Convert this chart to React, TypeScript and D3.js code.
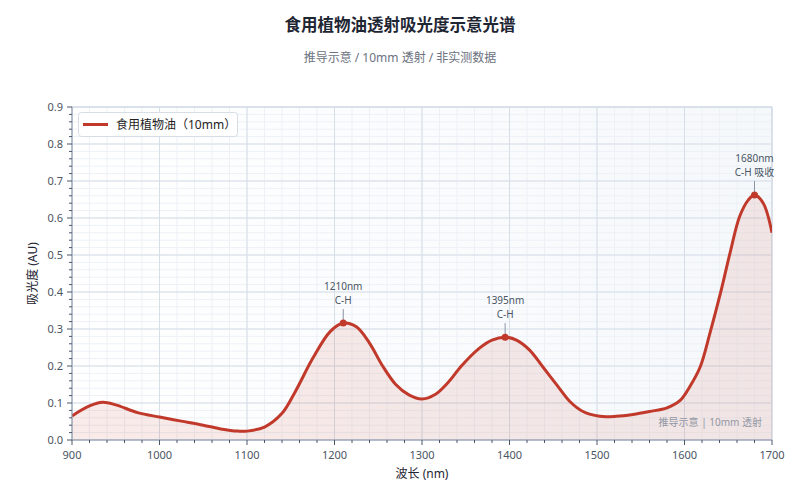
import React from "react";
import * as d3 from "d3";

const wavelengths = [900, 920, 935, 950, 975, 1000, 1025, 1050, 1070, 1090, 1100, 1120, 1140, 1155, 1175, 1195, 1210, 1225, 1240, 1255, 1270, 1285, 1300, 1315, 1330, 1345, 1365, 1380, 1395, 1408, 1423, 1438, 1454, 1469, 1484, 1503, 1522, 1541, 1560, 1580, 1595, 1606, 1618, 1629, 1641, 1652, 1663, 1673, 1680, 1690, 1700];
const absorbance = [0.065, 0.092, 0.102, 0.095, 0.074, 0.062, 0.051, 0.040, 0.030, 0.024, 0.024, 0.035, 0.072, 0.13, 0.22, 0.293, 0.316, 0.306, 0.262, 0.2, 0.15, 0.122, 0.111, 0.123, 0.156, 0.2, 0.247, 0.27, 0.278, 0.27, 0.243, 0.198, 0.149, 0.104, 0.077, 0.064, 0.064, 0.069, 0.077, 0.087, 0.107, 0.144, 0.198, 0.288, 0.396, 0.505, 0.604, 0.649, 0.662, 0.64, 0.56];

const peakWavelengths = [1210, 1395, 1680];
const peakValues = [0.316, 0.278, 0.662];
const peakLabels = [["1210nm", "C-H"], ["1395nm", "C-H"], ["1680nm", "C-H 吸收"]];

const xTicks = [900, 1000, 1100, 1200, 1300, 1400, 1500, 1600, 1700];
const yTicks = [0, 0.1, 0.2, 0.3, 0.4, 0.5, 0.6, 0.7, 0.8, 0.9];

const title = "食用植物油透射吸光度示意光谱";
const subtitle = "推导示意 / 10mm 透射 / 非实测数据";
const seriesName = "食用植物油（10mm）";
const xLabel = "波长 (nm)";
const yLabel = "吸光度 (AU)";
const watermark = "推导示意 | 10mm 透射";

const W = 800, H = 500;
const M = { left: 72, right: 28, top: 107, bottom: 60 };
const FONT = "'Noto Sans', 'Noto Sans CJK SC', sans-serif";
const RED = "#c0392b";

export default function App() {
  const x = d3.scaleLinear().domain([900, 1700]).range([M.left, W - M.right]);
  const y = d3.scaleLinear().domain([0, 0.9]).range([H - M.bottom, M.top]);
  const data = wavelengths.map((w, i) => [w, absorbance[i]] as [number, number]);
  const curve = d3.curveCatmullRom.alpha(0.5);
  const line = d3.line<[number, number]>().x(d => x(d[0])).y(d => y(d[1])).curve(curve);
  const area = d3.area<[number, number]>().x(d => x(d[0])).y0(y(0)).y1(d => y(d[1])).curve(curve);
  const xMinor = d3.range(900, 1701, 20);
  const yMinor = d3.range(0, 0.9001, 0.02);
  const x0 = x(900), x1 = x(1700), y0 = y(0), y1 = y(0.9);

  return (
    <svg width={W} height={H} style={{ display: "block", position: "absolute", left: 0, top: 0, fontFamily: FONT }}>
      <defs>
        <linearGradient id="bg" x1="0" x2="1" y1="0" y2="0">
          <stop offset="0" stopColor="#ffffff" />
          <stop offset="1" stopColor="#f5f8fb" />
        </linearGradient>
        <clipPath id="clip"><rect x={x0} y={y1} width={x1 - x0} height={y0 - y1} /></clipPath>
      </defs>
      <rect width={W} height={H} fill="#fff" />
      <text x={400} y={31} textAnchor="middle" fontSize={16.5} fontWeight={700} fill="#1f2633">{title}</text>
      <text x={400} y={62} textAnchor="middle" fontSize={12} fill="#6b7280">{subtitle}</text>

      <rect x={x0} y={y1} width={x1 - x0} height={y0 - y1} fill="url(#bg)" />
      {xMinor.map(v => <line key={"xm" + v} x1={x(v)} x2={x(v)} y1={y1} y2={y0} stroke="#edf1f6" strokeWidth={1} />)}
      {yMinor.map(v => <line key={"ym" + v} x1={x0} x2={x1} y1={y(v)} y2={y(v)} stroke="#edf1f6" strokeWidth={1} />)}
      {xTicks.map(v => <line key={"xg" + v} x1={x(v)} x2={x(v)} y1={y1} y2={y0} stroke="#d6dee8" strokeWidth={1} />)}
      {yTicks.map(v => <line key={"yg" + v} x1={x0} x2={x1} y1={y(v)} y2={y(v)} stroke="#d6dee8" strokeWidth={1} />)}
      <rect x={x0} y={y1} width={x1 - x0} height={y0 - y1} fill="none" stroke="#cfd7e2" />

      <g clipPath="url(#clip)">
        <path d={area(data) || ""} fill={RED} fillOpacity={0.1} />
        <path d={line(data) || ""} fill="none" stroke={RED} strokeWidth={3} strokeLinejoin="round" />
      </g>

      <text x={x1 - 10} y={y(0.05) + 4} textAnchor="end" fontSize={10} fill="#9198a4">{watermark}</text>

      {/* axes */}
      <line x1={x0} x2={x1} y1={y0} y2={y0} stroke="#8c98ab" />
      <line x1={x0} x2={x0} y1={y1} y2={y0} stroke="#8c98ab" />
      {xMinor.map(v => <line key={"xt" + v} x1={x(v)} x2={x(v)} y1={y0} y2={y0 + (v % 100 === 0 ? 5 : 3)} stroke="#4a5568" />)}
      {yMinor.map(v => <line key={"yt" + v} x1={x0} x2={x0 - (Math.abs(v * 10 - Math.round(v * 10)) < 1e-6 ? 5 : 3)} y1={y(v)} y2={y(v)} stroke="#4a5568" />)}
      {xTicks.map(v => <text key={"xl" + v} x={x(v)} y={y0 + 19} textAnchor="middle" fontSize={11} fill="#4b5563">{v}</text>)}
      {yTicks.map(v => <text key={"yl" + v} x={x0 - 9} y={y(v) + 4} textAnchor="end" fontSize={11} fill="#4b5563">{v.toFixed(1)}</text>)}
      <text x={(x0 + x1) / 2} y={H - 22} textAnchor="middle" fontSize={12} fill="#1f2633">{xLabel}</text>
      <text transform={`translate(37,${(y0 + y1) / 2}) rotate(-90)`} textAnchor="middle" fontSize={12} fill="#1f2633">{yLabel}</text>

      {/* peaks */}
      {peakWavelengths.map((w, i) => {
        const px = x(w), py = y(peakValues[i]);
        return (
          <g key={"pk" + w}>
            <line x1={px} x2={px} y1={py - 14} y2={py - 3} stroke="#8a94a6" strokeWidth={1} />
            <circle cx={px} cy={py} r={3.5} fill={RED} />
            <text x={px} y={py - 33} textAnchor="middle" fontSize={10} fill="#4b5563">{peakLabels[i][0]}</text>
            <text x={px} y={py - 19} textAnchor="middle" fontSize={10} fill="#4b5563">{peakLabels[i][1]}</text>
          </g>
        );
      })}

      {/* legend */}
      <rect x={78.5} y={112.5} width={159} height={24} rx={3} fill="#fff" stroke="#d6dde6" />
      <line x1={83} x2={108} y1={124.5} y2={124.5} stroke={RED} strokeWidth={3} />
      <text x={116} y={129} fontSize={12} fill="#222">{seriesName}</text>
    </svg>
  );
}
